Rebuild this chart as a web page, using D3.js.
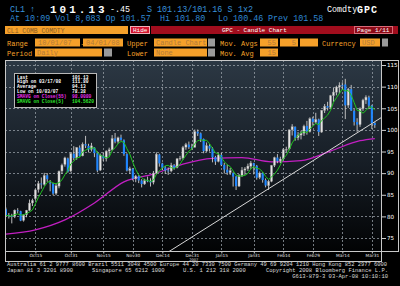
<!DOCTYPE html>
<html>
<head>
<meta charset="utf-8">
<script src="https://cdn.jsdelivr.net/npm/d3@7"></script>
<style>
body { margin: 0; background: #000; }
svg { display: block; }
text { font-family: "Liberation Mono", "DejaVu Sans Mono", monospace; }
</style>
</head>
<body>
<svg id="chart" width="400" height="286"></svg>
<script>
// CL1 daily candles, 10/01/07 - 04/01/08
var holidays = ["2007-11-22", "2007-12-25", "2008-01-01", "2008-01-21", "2008-02-18", "2008-03-21"];

var open = [81.65,80.30,80.10,80.00,81.40,81.20,79.10,80.40,81.40,83.10,
    84.10,86.20,87.60,87.40,89.50,87.80,87.60,85.30,87.00,90.50,
    92.00,93.40,90.50,94.50,93.50,95.90,94.00,96.70,96.30,95.50,
    95.90,94.60,90.70,94.00,93.40,95.10,95.40,98.00,97.30,98.20,
    97.60,94.40,90.60,91.00,88.70,89.30,88.30,87.50,88.30,88.20,
    87.90,90.00,94.30,92.20,91.30,90.60,90.50,91.80,91.30,93.30,
    93.50,96.00,96.60,96.00,96.00,99.60,99.20,97.90,95.10,96.30,
    95.70,93.70,92.70,94.20,91.90,90.80,90.10,90.00,89.20,87.00,
    89.40,90.70,91.00,91.60,92.30,91.70,89.00,90.00,88.40,87.10,
    88.10,91.80,93.60,92.80,93.30,95.50,95.60,100.00,100.70,98.20,
    98.80,99.20,100.90,99.60,102.60,101.80,102.40,99.50,104.50,105.50,
    105.20,107.90,108.70,109.90,110.30,110.50,105.70,109.40,104.40,101.80,
    101.20,104.90,106.90,107.50,105.60,101.57];
var high = [82.05,80.80,80.60,81.60,81.90,81.30,80.50,81.50,83.90,84.10,
    86.40,88.20,89.00,90.07,90.02,88.40,87.80,87.70,90.60,92.20,
    93.80,93.60,94.80,96.24,96.00,96.40,97.10,98.62,96.80,97.00,
    96.00,95.00,94.50,94.70,95.30,95.90,98.80,99.29,98.45,98.90,
    97.80,94.60,91.50,91.20,89.60,89.50,88.60,88.70,89.20,88.80,
    90.50,94.80,94.50,92.40,91.60,91.30,92.40,92.10,93.50,94.00,
    96.30,97.00,97.30,96.80,100.09,100.09,99.40,98.00,97.10,96.70,
    96.00,94.00,94.60,94.70,92.40,92.00,91.20,90.20,89.40,89.80,
    91.40,91.40,92.20,92.80,92.40,91.90,90.40,90.20,88.80,88.40,
    91.90,93.80,94.40,93.80,95.80,96.10,100.10,101.32,100.80,99.50,
    99.80,101.20,102.08,102.90,103.05,103.95,102.60,104.60,105.97,106.50,
    108.10,109.70,110.20,111.00,111.00,111.80,109.70,110.40,104.80,102.70,
    105.20,107.20,108.00,107.90,105.80,101.80];
var low = [79.95,79.50,78.38,79.60,80.70,78.90,78.80,79.80,81.20,82.40,
    83.80,85.50,86.40,87.10,88.00,85.80,84.90,84.90,86.50,89.80,
    91.50,90.10,90.20,93.00,93.10,93.80,93.90,95.80,94.80,95.00,
    93.70,90.20,90.50,92.80,92.70,94.00,95.20,96.90,96.80,97.50,
    94.00,90.40,89.80,88.30,87.90,87.70,86.70,87.30,87.90,86.90,
    87.40,89.70,91.50,90.70,89.80,89.60,90.20,90.80,91.10,92.90,
    93.10,95.40,95.60,95.40,95.90,98.60,97.20,94.60,94.90,95.00,
    92.50,91.90,92.50,91.60,89.90,89.60,89.60,86.90,86.11,86.80,
    89.10,89.60,90.50,91.00,89.70,88.50,88.60,87.80,86.70,86.11,
    87.90,91.40,92.30,92.30,93.00,94.80,95.30,98.70,97.50,97.60,
    97.80,98.60,98.90,99.40,101.00,101.40,98.60,99.30,103.90,104.50,
    104.90,106.50,108.00,108.40,109.30,102.50,105.10,104.40,101.00,99.55,
    100.70,104.40,106.00,104.80,100.20,100.46];
var close = [80.24,80.05,79.94,81.44,81.22,79.02,80.30,81.37,83.08,83.69,
    86.13,87.61,87.40,89.47,88.60,87.55,85.27,87.10,90.46,91.86,
    93.53,90.38,94.53,93.49,95.93,93.98,96.70,96.37,95.46,96.32,
    94.62,90.62,94.09,93.43,95.10,95.42,98.03,97.29,98.18,97.70,
    94.42,90.62,91.01,88.71,89.31,88.32,87.49,88.28,88.28,87.86,
    90.02,94.39,92.25,91.27,90.63,90.49,91.81,91.24,93.31,93.47,
    95.97,96.62,96.00,95.98,99.62,99.18,97.91,95.09,96.33,95.67,
    93.67,92.69,94.20,91.90,90.84,90.13,90.57,89.21,86.99,89.41,
    90.71,90.99,91.64,92.33,91.75,88.96,90.02,88.41,87.14,88.11,
    91.77,93.59,92.78,93.27,95.46,95.50,100.01,100.74,98.23,98.81,
    99.23,100.88,99.64,102.59,101.84,102.45,99.52,104.52,105.47,105.15,
    107.90,108.75,109.92,110.33,110.21,105.68,109.42,104.48,101.84,101.22,
    104.89,106.90,107.58,105.62,101.58,101.13];

// 55 day average (trading day index -> value)
var ma55Idx = [0, 10, 20, 30, 40, 50, 60, 70, 80, 90, 100, 110, 120, 125];
var ma55Val = [75.9, 76.9, 79.2, 83.1, 88.0, 89.8, 92.1, 93.4, 93.6, 92.6, 92.9, 95.1, 97.5, 98.0];

// hand drawn trend line, two anchor points
var trendIdx = [89, 125];
var trendVal = [86.4, 101.9];

var yTicks = [75, 80, 85, 90, 95, 100, 105, 110, 115];
var xTickDates = ["2007-10-15", "2007-10-31", "2007-11-15", "2007-11-30", "2007-12-14", "2007-12-31",
    "2008-01-15", "2008-01-31", "2008-02-14", "2008-02-29", "2008-03-14", "2008-03-31"];
var xTickLabels = ["Oct15", "Oct31", "Nov15", "Nov30", "Dec14", "Dec31",
    "Jan15", "Jan31", "Feb14", "Feb29", "Mar14", "Mar31"];

var legendRows = [
    ["Last", "101.13", "#ffffff"],
    ["High on 03/17/08", "111.80", "#ffffff"],
    ["Average", "94.13", "#ffffff"],
    ["Low on 10/03/07", "78.38", "#ffffff"],
    ["SMAVG on Close(55)", "98.0080", "#e62ee6"],
    ["SMAVG on Close(5)", "104.5620", "#2ee62e"]
];

// trading days
var fmt = d3.timeFormat("%Y-%m-%d");
var days = d3.timeDay.range(new Date(2007, 9, 1), new Date(2008, 3, 2))
    .filter(function(d) { return d.getDay() != 0 && d.getDay() != 6 && holidays.indexOf(fmt(d)) < 0; })
    .map(fmt);

var data = days.map(function(d, i) {
    return {date: d, i: i, o: open[i], h: high[i], l: low[i], c: close[i]};
});

// 5 day simple average of closes
var ma5 = close.map(function(c, i) {
    return d3.mean(close.slice(Math.max(0, i - 4), i + 1));
});

var svg = d3.select("#chart");
var orange = "#f5a02a", boxText = "#b07a3c", blue = "#3a93dc";

function txt(x, y, s, size, color, anchor, weight) {
    return svg.append("text").attr("x", x).attr("y", y).text(s)
        .style("font-size", size + "px").attr("fill", color)
        .attr("text-anchor", anchor || "start")
        .style("font-weight", weight || "normal");
}
function box(x, y, w, h, fill, stroke) {
    return svg.append("rect").attr("x", x).attr("y", y).attr("width", w).attr("height", h)
        .attr("fill", fill).attr("stroke", stroke || "none");
}

// header lines
txt(10, 12, "CL1 \u2191", 8.4, blue);
txt(50, 12.5, "101.13", 11, "#ffffff", "start", "bold").style("letter-spacing", "3px");
txt(110, 12, "-.45", 8.4, "#ffffff");
txt(147, 12, "S 101.13/101.16 S", 8.4, blue);
txt(238, 12, "1x2", 8.4, blue);
txt(327, 12, "Comdty", 8.4, "#ffffff");
txt(357, 12.5, "GPC", 10, "#ffffff", "start", "bold").style("letter-spacing", "1px");
txt(10, 21, "At 10:09 Vol 8,083 Op 101.57", 8.4, "#2f87d2");
txt(160, 21, "Hi 101.80", 8.4, "#2f87d2");
txt(218, 21, "Lo 100.46", 8.4, "#2f87d2");
txt(268, 21, "Prev 101.58", 8.4, "#2f87d2");

// row 3
box(5, 26, 123, 8, orange);
txt(7, 32.6, "CL1 COMB COMDTY", 6.4, "#8a5c24");
box(130.5, 26.5, 19, 7, "#d3152f", "#f0b0b8");
txt(133, 32.4, "Hide", 6, "#ffffff");
box(151, 26, 247, 8, "#a10d1d");
txt(222, 32.4, "GPC - Candle Chart", 6, "#ffffff");
box(354.5, 26.5, 38, 7, "#8c0a17", "#d86a78");
txt(357, 32.4, "Page 1/11", 6, "#ffffff");

// rows 4 and 5
txt(7, 45.5, "Range", 7, orange);
box(35, 38.5, 45, 8, orange); txt(38, 45, "10/01/07", 7, boxText);
txt(80.5, 45.5, "-", 7, orange);
box(83, 38.5, 40, 8, orange); txt(86, 45, "04/01/08", 7, boxText);
txt(127, 45.5, "Upper", 7, orange);
box(154, 38.5, 53, 8, orange); txt(156, 45, "Candle Chart", 7, boxText);
box(208, 38.5, 7, 8, "#9a9a9a");
txt(220, 45.5, "Mov. Avgs", 7, orange);
box(260, 38.5, 18, 8, orange); txt(276, 45, "55", 7, boxText, "end");
box(280, 38.5, 18, 8, orange); txt(296, 45, "5", 7, boxText, "end");
box(300, 38.5, 18, 8, orange);
txt(322, 45.5, "Currency", 7, orange);
box(360, 38.5, 20, 8, orange); txt(362, 45, "USD", 7, boxText);
box(382, 38.5, 6, 8, "#9a9a9a");

txt(7, 55.5, "Period", 7, orange);
box(35, 48.5, 67, 8, orange); txt(37, 55, "Daily", 7, boxText);
box(104, 48.5, 8, 8, "#9a9a9a");
txt(127, 55.5, "Lower", 7, orange);
box(154, 48.5, 53, 8, orange); txt(156, 55, "None", 7, boxText);
box(208, 48.5, 7, 8, "#9a9a9a");
txt(220, 55.5, "Mov. Avg", 7, orange);
box(260, 48.5, 18, 8, orange); txt(276, 55, "15", 7, boxText, "end");

// chart area
var plot = {left: 5, right: 381, top: 60, bottom: 251};

var x = d3.scaleLinear()
    .domain([-0.3, 127.1])
    .range([plot.left, plot.right]);
var y = d3.scaleLinear()
    .domain([72.0, 116.16])
    .range([plot.bottom, plot.top]);

var defs = svg.append("defs");
var grad = defs.append("linearGradient").attr("id", "bg").attr("x1", 0).attr("y1", 0).attr("x2", 0).attr("y2", 1);
grad.append("stop").attr("offset", "0%").attr("stop-color", "#2c3844");
grad.append("stop").attr("offset", "55%").attr("stop-color", "#161d25");
grad.append("stop").attr("offset", "100%").attr("stop-color", "#020304");
defs.append("clipPath").attr("id", "clip").append("rect")
    .attr("x", plot.left).attr("y", plot.top)
    .attr("width", plot.right - plot.left).attr("height", plot.bottom - plot.top);

svg.append("rect")
    .attr("x", plot.left).attr("y", plot.top)
    .attr("width", plot.right - plot.left).attr("height", plot.bottom - plot.top)
    .attr("fill", "url(#bg)");

var tickIdx = xTickDates.map(function(d) { return days.indexOf(d); });

// grid
var grid = svg.append("g").attr("stroke", "#9aa2aa").attr("stroke-width", 1)
    .attr("stroke-dasharray", "2,2").attr("opacity", 0.75);
grid.selectAll("hline").data(yTicks).enter().append("line")
    .attr("x1", plot.left).attr("x2", plot.right)
    .attr("y1", function(d) { return Math.round(y(d)) + 0.5; })
    .attr("y2", function(d) { return Math.round(y(d)) + 0.5; });
grid.selectAll("vline").data(tickIdx).enter().append("line")
    .attr("y1", plot.top).attr("y2", plot.bottom)
    .attr("x1", function(d) { return Math.round(x(d)) + 0.5; })
    .attr("x2", function(d) { return Math.round(x(d)) + 0.5; });

var g = svg.append("g").attr("clip-path", "url(#clip)");

// moving averages
g.append("path")
    .datum(ma55Idx)
    .attr("fill", "none").attr("stroke", "#c21fc2").attr("stroke-width", 1.3)
    .attr("d", d3.line().curve(d3.curveMonotoneX)
        .x(function(d) { return x(d); })
        .y(function(d, k) { return y(ma55Val[k]); }));

// trend line, extended over the plot
var slope = (trendVal[1] - trendVal[0]) / (trendIdx[1] - trendIdx[0]);
var tEnds = x.domain();
g.append("line")
    .attr("x1", x(tEnds[0])).attr("y1", y(trendVal[0] + slope * (tEnds[0] - trendIdx[0])))
    .attr("x2", x(tEnds[1])).attr("y2", y(trendVal[0] + slope * (tEnds[1] - trendIdx[0])))
    .attr("stroke", "#d8d8d8").attr("stroke-width", 1);

// candles
var bw = (x(1) - x(0)) * 0.72;
var candles = g.selectAll("candle").data(data).enter().append("g");
candles.append("line")
    .attr("x1", function(d) { return x(d.i); })
    .attr("x2", function(d) { return x(d.i); })
    .attr("y1", function(d) { return y(d.h); })
    .attr("y2", function(d) { return y(d.l); })
    .attr("stroke", "#d0d0d0").attr("stroke-width", 0.9);
candles.append("rect")
    .attr("x", function(d) { return x(d.i) - bw / 2; })
    .attr("width", bw)
    .attr("y", function(d) { return y(Math.max(d.o, d.c)); })
    .attr("height", function(d) { return Math.max(0.8, Math.abs(y(d.o) - y(d.c))); })
    .attr("fill", function(d) { return d.c >= d.o ? "#e4e4e4" : "#1f86ff"; })
    .attr("stroke", function(d) { return d.c >= d.o ? "#8a8a8a" : "none"; })
    .attr("stroke-width", 0.4);

g.append("path")
    .datum(ma5)
    .attr("fill", "none").attr("stroke", "#1fc41f").attr("stroke-width", 1)
    .attr("d", d3.line()
        .x(function(d, i) { return x(i); })
        .y(function(d) { return y(d); }));

// legend box
var lg = svg.append("g");
lg.append("rect").attr("x", 14.5).attr("y", 73.5).attr("width", 82).attr("height", 34)
    .attr("fill", "#000").attr("stroke", "#b8b8b8");
lg.selectAll("lt").data(legendRows).enter().append("text")
    .attr("x", 17).attr("y", function(d, k) { return 78.6 + k * 4.8; })
    .text(function(d) { return d[0]; })
    .attr("fill", function(d) { return d[2]; })
    .style("font-size", "4.6px").style("font-weight", "bold");
lg.selectAll("lv").data(legendRows).enter().append("text")
    .attr("x", 72).attr("y", function(d, k) { return 78.6 + k * 4.8; })
    .text(function(d) { return d[1]; })
    .attr("fill", function(d) { return d[2]; })
    .style("font-size", "4.6px").style("font-weight", "bold");

// frames
var frame = svg.append("g").attr("fill", "none").attr("stroke", "#c8c8c8").attr("stroke-width", 1);
frame.append("rect").attr("x", plot.left + 0.5).attr("y", plot.top + 0.5)
    .attr("width", plot.right - plot.left).attr("height", plot.bottom - plot.top);
frame.append("rect").attr("x", plot.right + 0.5).attr("y", plot.top + 0.5)
    .attr("width", 398 - plot.right).attr("height", plot.bottom - plot.top);
frame.append("rect").attr("x", plot.left + 0.5).attr("y", plot.bottom + 0.5)
    .attr("width", plot.right - plot.left).attr("height", 10);

// right price axis
var yAxis = svg.append("g").attr("transform", "translate(" + (plot.right + 1) + ",0)")
    .call(d3.axisRight(y).tickValues(yTicks).tickSize(4).tickPadding(1));
yAxis.select(".domain").remove();
yAxis.selectAll("line").attr("stroke", "#d0d0d0");
yAxis.selectAll("text").attr("fill", "#ffffff").style("font-size", "5.6px")
    .style("font-family", "DejaVu Sans, sans-serif");

// date axis
var xAxis = svg.append("g").attr("transform", "translate(0," + (plot.bottom + 1) + ")")
    .call(d3.axisBottom(x).tickValues(tickIdx).tickSize(1.5).tickPadding(0)
        .tickFormat(function(d, k) { return xTickLabels[k]; }));
xAxis.select(".domain").remove();
xAxis.selectAll("line").attr("stroke", "#d0d0d0");
xAxis.selectAll("text").attr("fill", "#e0e0e0").style("font-size", "4.3px")
    .style("font-family", "DejaVu Sans, sans-serif");
txt(x(tickIdx[5]) + 2, 261.3, "2007", 3.6, "#e0e0e0", "middle").style("font-family", "DejaVu Sans, sans-serif");

// footer
var foot = "#dcdcdc";
txt(7, 266.3, "Australia 61 2 9777 8600 Brazil 5511 3048 4500 Europe 44 20 7330 7500 Germany 49 69 9204 1210 Hong Kong 852 2977 6000", 5.5, foot)
    .attr("textLength", 380).attr("lengthAdjust", "spacingAndGlyphs");
txt(7, 272, "Japan 81 3 3201 8900", 5.5, foot);
txt(92, 272, "Singapore 65 6212 1000", 5.5, foot);
txt(183, 272, "U.S. 1 212 318 2000", 5.5, foot);
txt(388, 272, "Copyright 2008 Bloomberg Finance L.P.", 5.5, foot, "end");
txt(388, 277.8, "G613-879-3 03-Apr-08 10:10:10", 5.5, foot, "end");
</script>
</body>
</html>
